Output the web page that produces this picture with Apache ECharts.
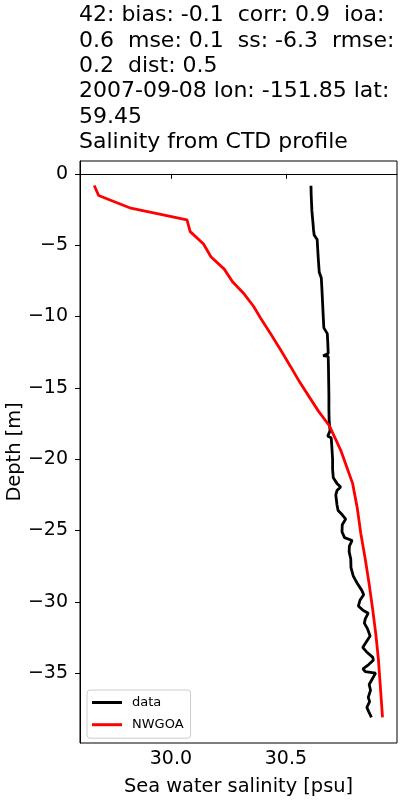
<!DOCTYPE html>
<html>
<head>
<meta charset="utf-8">
<script src="https://cdn.jsdelivr.net/npm/echarts@6/dist/echarts.min.js"></script>
<style>html,body{margin:0;padding:0;background:#fff}#c{width:400px;height:800px}</style>
</head>
<body>
<div id="c"></div>
<script>
const titleLines = [
  "42: bias: -0.1  corr: 0.9  ioa:",
  "0.6  mse: 0.1  ss: -6.3  rmse:",
  "0.2  dist: 0.5",
  "2007-09-08 lon: -151.85 lat:",
  "59.45",
  "Salinity from CTD profile"
];
const xTicks = [30.0, 30.5];
const yTicks = [0, -5, -10, -15, -20, -25, -30, -35];
const seriesNames = ["data", "NWGOA"];
// [salinity, depth]
const obsData = [
  [30.609,-0.84],[30.610,-1.5],[30.612,-2.2],[30.613,-2.6],[30.617,-3.3],[30.620,-3.9],[30.623,-4.3],
  [30.636,-4.6],[30.638,-5.2],[30.641,-6.0],[30.645,-6.9],[30.654,-7.3],[30.657,-8.2],[30.660,-9.2],
  [30.663,-10.2],[30.665,-10.8],[30.680,-11.2],[30.682,-11.8],[30.684,-12.6],[30.662,-12.75],[30.684,-12.8],
  [30.685,-13.5],[30.686,-14.5],[30.687,-15.5],[30.687,-16.5],[30.688,-17.3],[30.692,-18.0],[30.682,-18.4],
  [30.697,-18.5],[30.700,-19.2],[30.703,-20.0],[30.703,-20.7],[30.706,-21.3],[30.722,-21.7],[30.738,-21.95],
  [30.722,-22.2],[30.717,-22.5],[30.722,-23.2],[30.727,-23.6],[30.745,-23.9],[30.760,-24.2],[30.745,-24.6],
  [30.744,-25.1],[30.755,-25.5],[30.788,-25.7],[30.776,-26.1],[30.775,-26.5],[30.782,-27.0],[30.783,-27.6],
  [30.793,-28.2],[30.810,-28.7],[30.830,-29.2],[30.838,-29.5],[30.822,-29.9],[30.815,-30.3],[30.835,-30.6],
  [30.858,-30.8],[30.845,-31.2],[30.841,-31.5],[30.855,-31.9],[30.866,-32.4],[30.850,-32.8],[30.834,-33.2],
  [30.850,-33.5],[30.878,-33.9],[30.880,-34.1],[30.860,-34.4],[30.835,-34.7],[30.845,-34.9],[30.890,-35.0],
  [30.876,-35.4],[30.862,-35.8],[30.868,-36.2],[30.858,-36.7],[30.864,-37.0],[30.852,-37.4],[30.860,-37.7],
  [30.872,-38.1]
];
const modelData = [
  [29.667,-0.82],[29.686,-1.52],[29.826,-2.41],[30.070,-3.23],[30.084,-4.05],[30.142,-4.92],[30.174,-5.81],
  [30.232,-6.68],[30.268,-7.57],[30.319,-8.43],[30.360,-9.3],[30.391,-10.14],[30.435,-11.25],[30.478,-12.37],
  [30.520,-13.5],[30.560,-14.6],[30.600,-15.6],[30.640,-16.6],[30.688,-17.64],[30.716,-18.6],[30.739,-19.4],
  [30.761,-20.4],[30.790,-21.7],[30.810,-23.4],[30.826,-25.25],[30.845,-27.0],[30.862,-28.76],[30.877,-30.5],
  [30.891,-32.28],[30.902,-34.0],[30.910,-35.8],[30.920,-38.1]
];

const FONT = "DejaVu Sans";
const chart = echarts.init(document.getElementById('c'), null, {renderer: 'canvas'});
const fmtMinus = v => String(v).replace('-', '\u2212');
chart.setOption({
  animation: false,
  backgroundColor: '#fff',
  title: {
    text: titleLines.join('\n'),
    left: 79, top: 3, padding: 0,
    textStyle: {fontFamily: FONT, fontSize: 22, fontWeight: 'normal', color: '#000', lineHeight: 25.3}
  },
  grid: {left: 80, right: 3, top: 161, bottom: 57, containLabel: false, outerBoundsMode: 'none',
    show: true, borderColor: '#000', borderWidth: 1, backgroundColor: 'transparent'},
  legend: {
    orient: 'vertical', left: 87, top: 690,
    padding: [6, 7, 7, 5], itemGap: 9.2, itemWidth: 30, itemHeight: 3, icon: 'rect',
    borderColor: '#cccccc', borderWidth: 1, borderRadius: 3, backgroundColor: 'rgba(255,255,255,0.8)',
    textStyle: {fontFamily: FONT, fontSize: 13, color: '#000', padding: [0, 0, 0, 5], lineHeight: 13},
    data: seriesNames
  },
  xAxis: {
    type: 'value', min: 29.605, max: 30.983,
    name: 'Sea water salinity [psu]', nameLocation: 'middle', nameGap: 34, nameMoveOverlap: false,
    nameTextStyle: {fontFamily: FONT, fontSize: 19.4, color: '#000'},
    axisLine: {show: true, lineStyle: {color: '#000', width: 1}},
    axisTick: {show: true, length: 5, lineStyle: {color: '#000'}, customValues: xTicks},
    axisLabel: {fontFamily: FONT, fontSize: 19, color: '#000', margin: 7, customValues: xTicks,
      formatter: v => v.toFixed(1)},
    splitLine: {show: false}
  },
  yAxis: {
    type: 'value', min: -39.9, max: 0.9,
    name: 'Depth [m]', nameLocation: 'middle', nameGap: 56, nameRotate: 90, nameMoveOverlap: false,
    nameTextStyle: {fontFamily: FONT, fontSize: 19.4, color: '#000'},
    axisLine: {show: true, lineStyle: {color: '#000', width: 1}},
    axisTick: {show: true, length: 5, lineStyle: {color: '#000'}, customValues: yTicks},
    axisLabel: {fontFamily: FONT, fontSize: 19, color: '#000', margin: 12, customValues: yTicks,
      formatter: v => fmtMinus(v)},
    splitLine: {show: false}
  },
  series: [
    {name: seriesNames[0], type: 'line', data: obsData, symbol: 'none', smooth: false,
      lineStyle: {color: '#000', width: 2.8}, itemStyle: {color: '#000'}},
    {name: seriesNames[1], type: 'line', data: modelData, symbol: 'none', smooth: false,
      lineStyle: {color: '#ff0000', width: 2.8}, itemStyle: {color: '#ff0000'}}
  ]
});
</script>
</body>
</html>
